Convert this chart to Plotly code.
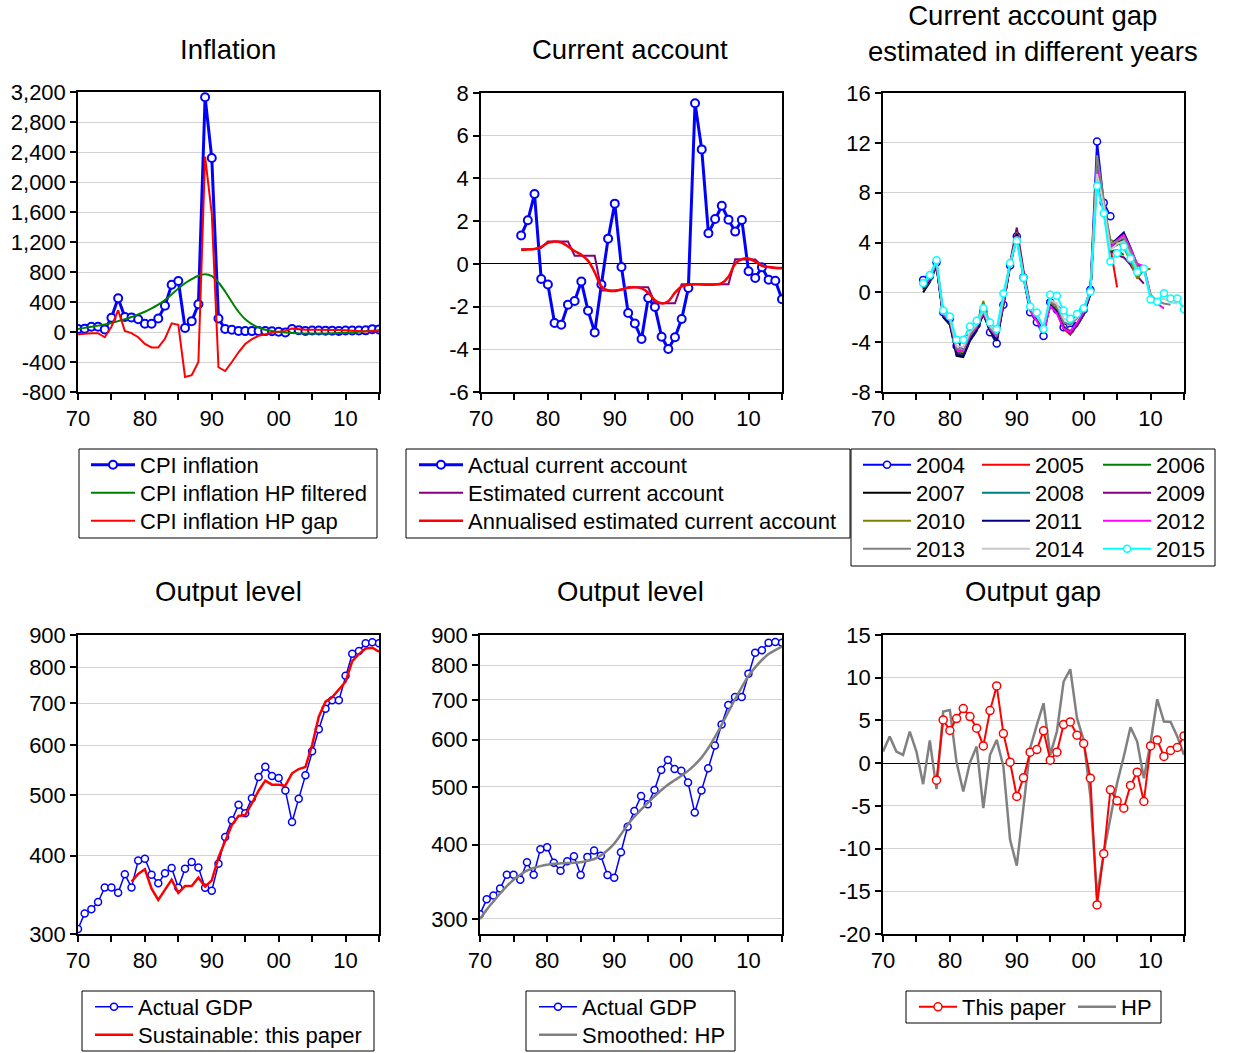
import math
import plotly.graph_objects as go

W, H = 1233, 1053
FONT = "Liberation Sans, Arial, sans-serif"

# ---------------- data ----------------
years_70_15 = list(range(1970, 2016))
years_76_15 = list(range(1976, 2016))
years_78_15 = list(range(1978, 2016))

cpi_inflation = [40, 45, 70, 70, 35, 190, 450, 200, 195, 170,
                 110, 110, 180, 350, 630, 680, 55, 145, 370, 3130,
                 2320, 180, 40, 30, 15, 12, 12, 12, 12, 10,
                 3, -5, 40, 25, 15, 20, 20, 18, 18, 15,
                 20, 20, 20, 22, 38, 35]
cpi_hp_filtered = [40, 55, 70, 85, 100, 120, 145, 170, 200, 235,
                   270, 315, 365, 425, 500, 580, 650, 705, 750, 770,
                   745, 660, 540, 400, 270, 170, 105, 60, 30, 12,
                   0, -8, -13, -17, -19, -20, -20, -19, -17, -14,
                   -10, -5, 2, 10, 18, 25]
cpi_hp_gap = [-30, -20, -15, -15, -70, 70, 290, 15, -15, -70,
              -160, -205, -205, -90, 115, 95, -600, -575, -400, 2340,
              1575, -470, -520, -400, -270, -160, -95, -50, -25, -10,
              5, 15, 45, 35, 30, 30, 32, 32, 30, 28,
              25, 20, 15, 8, 15, 10]

ca_actual = [1.33, 2.04, 3.27, -0.71, -0.97, -2.77, -2.85, -1.91, -1.74, -0.83,
             -2.19, -3.21, -0.97, 1.18, 2.82, -0.15, -2.30, -2.79, -3.52, -1.60,
             -2.02, -3.41, -3.99, -3.44, -2.58, -1.13, 7.52, 5.36, 1.43, 2.10,
             2.72, 2.07, 1.51, 2.05, -0.35, -0.66, -0.16, -0.74, -0.79, -1.66]
ca_estimated = [0.68, 0.68, 0.70, 0.75, 1.05, 1.05, 1.05, 1.05, 0.38, 0.38,
                0.38, 0.38, -1.25, -1.25, -1.25, -1.20, -1.10, -1.10, -1.10, -1.10,
                -1.85, -1.85, -1.85, -1.85, -0.95, -0.95, -0.95, -0.95, -0.95, -0.95,
                -0.95, -0.95, 0.22, 0.22, 0.22, 0.20, -0.10, -0.15, -0.20, -0.20]
ca_annualised = [0.65, 0.67, 0.70, 0.80, 0.98, 1.05, 1.00, 0.82, 0.60, 0.42,
                 0.15, -0.40, -1.05, -1.25, -1.27, -1.20, -1.12, -1.10, -1.15, -1.35,
                 -1.70, -1.85, -1.75, -1.35, -1.05, -0.98, -0.95, -0.97, -0.98, -0.97,
                 -0.90, -0.60, 0.00, 0.22, 0.25, 0.10, -0.08, -0.15, -0.18, -0.19]

# current account gap by vintage (values from 1976 onward)
gap_2004 = [1.0, 1.3, 2.4, -1.6, -2.1, -4.3, -4.2, -3.3, -2.6, -1.5,
            -3.2, -4.1, -1.0, 2.15, 4.5, 1.2, -1.6, -2.4, -3.5, -0.8,
            -1.4, -2.8, -3.0, -2.2, -1.4, 0.2, 12.1, 7.2, 6.1]
gap_2005 = [0.5, 1.1, 2.2, -1.8, -2.3, -4.7, -4.8, -3.6, -2.9, -1.8,
            -3.0, -3.8, -0.8, 2.3, 4.7, 1.5, -1.2, -2.0, -3.1, -1.0,
            -1.5, -2.9, -3.4, -2.6, -1.7, 0.0, 9.5, 6.8, 3.5, 0.4]
gap_2006 = [0.3, 1.0, 2.2, -1.9, -2.4, -4.8, -4.9, -3.7, -3.0, -1.6,
            -2.9, -3.7, -0.9, 2.2, 4.6, 1.4, -1.3, -2.1, -3.0, -1.0,
            -1.6, -2.9, -3.3, -2.7, -1.8, -0.2, 10.0, 6.5, 3.3, 3.4, 3.0]
gap_2007 = [0.0, 0.8, 2.1, -2.0, -2.6, -5.1, -5.2, -3.9, -3.1, -1.7,
            -3.1, -3.9, -1.0, 2.1, 4.6, 1.3, -1.4, -2.2, -3.0, -1.1,
            -1.5, -2.8, -3.2, -2.6, -1.7, -0.1, 10.3, 6.9, 3.6, 4.0, 4.3, 3.5]
gap_2008 = [0.2, 0.9, 2.2, -1.9, -2.5, -4.9, -5.0, -3.8, -3.0, -1.6,
            -3.0, -3.8, -1.0, 2.2, 4.7, 1.4, -1.3, -2.1, -3.0, -1.0,
            -1.5, -2.8, -3.2, -2.6, -1.7, -0.1, 10.2, 6.8, 3.5, 3.8, 4.2, 3.2, 1.8]
gap_2009 = [0.3, 1.0, 2.2, -1.8, -2.4, -4.8, -4.9, -3.7, -2.9, -1.5,
            -2.9, -3.7, -0.8, 2.4, 5.2, 1.8, -1.0, -1.9, -2.9, -0.9,
            -1.4, -2.9, -3.3, -2.7, -1.8, -0.1, 9.8, 6.6, 3.3, 3.0, 2.8, 2.2, 1.3, 0.7]
gap_2010 = [0.4, 1.1, 2.3, -1.7, -2.3, -4.7, -4.8, -3.4, -2.6, -0.7,
            -2.7, -3.5, -0.7, 2.3, 4.8, 1.5, -1.2, -2.0, -2.8, -0.9,
            -1.3, -2.7, -3.1, -2.5, -1.6, 0.0, 10.1, 7.0, 4.2, 4.0, 3.6, 2.5, 1.1, 1.8, 1.9]
gap_2011 = [0.3, 1.0, 2.2, -1.9, -2.5, -5.0, -5.1, -3.8, -3.0, -1.7,
            -3.0, -3.8, -0.9, 2.2, 4.7, 1.4, -1.3, -2.1, -3.0, -1.0,
            -1.5, -2.8, -3.2, -2.6, -1.7, -0.1, 10.5, 7.0, 3.8, 4.3, 4.8, 3.6, 2.2, 1.9, -0.3, -1.0]
gap_2012 = [0.4, 1.1, 2.3, -1.8, -2.3, -4.6, -4.7, -3.5, -2.8, -1.6,
            -2.9, -3.6, -0.8, 2.2, 4.4, 1.3, -1.5, -2.3, -3.3, -1.1,
            -1.7, -2.9, -3.2, -2.5, -1.6, 0.0, 10.0, 7.0, 3.6, 4.2, 4.6, 3.5, 2.3, 2.1, -0.2, -0.9, -1.3]
gap_2013 = [0.6, 1.2, 2.4, -1.7, -2.2, -4.5, -4.6, -3.4, -2.7, -1.5,
            -2.8, -3.5, -0.6, 2.2, 4.5, 1.4, -1.3, -2.0, -2.8, -0.7,
            -1.1, -2.4, -2.6, -2.1, -1.4, 0.2, 11.0, 7.4, 3.9, 4.1, 4.4, 3.3, 2.1, 2.0, -0.2, -0.7, -0.9, -1.0]
gap_2014 = [0.7, 1.3, 2.5, -1.6, -2.1, -4.3, -4.4, -3.2, -2.6, -1.4,
            -2.7, -3.3, -0.4, 2.3, 4.4, 1.3, -1.2, -1.9, -2.7, -0.6,
            -0.9, -2.1, -2.4, -2.0, -1.3, 0.1, 9.5, 7.0, 3.4, 3.9, 4.1, 3.0, 1.8, 1.9, -0.4, -0.8, -0.5, -0.8, -0.9]
gap_2015 = [0.73, 1.40, 2.57, -1.46, -1.94, -3.81, -3.81, -2.74, -2.29, -1.27,
            -2.42, -2.95, -0.10, 2.36, 4.15, 1.16, -1.14, -1.62, -2.95, -0.20,
            -0.28, -1.46, -2.13, -1.73, -1.27, 0.04, 8.53, 6.34, 2.47, 3.13,
            3.67, 2.71, 1.64, 1.90, -0.58, -0.76, -0.07, -0.50, -0.50, -1.35]

vintage_names = ["2004", "2005", "2006", "2007", "2008", "2009",
                 "2010", "2011", "2012", "2013", "2014", "2015"]
vintage_values = [gap_2004, gap_2005, gap_2006, gap_2007, gap_2008, gap_2009,
                  gap_2010, gap_2011, gap_2012, gap_2013, gap_2014, gap_2015]
vintage_colors = ["#0000FF", "#FF0000", "#008000", "#000000", "#008080", "#800080",
                  "#808000", "#000080", "#FF00FF", "#808080", "#C8C8C8", "#00FFFF"]

gdp_actual = [305.6, 323.6, 328.5, 337.5, 356, 356, 349, 373.5, 356, 393,
              395.7, 373, 361.4, 375, 382.3, 355.7, 381.4, 390.8, 383, 355.7,
              351.8, 388.4, 428.5, 455.5, 482.5, 467.4, 494, 534, 554.8, 536,
              532.1, 508.5, 452.7, 493.3, 537.4, 587, 636.4, 686.6, 707.9, 708,
              775, 840, 848.5, 873, 876, 873]
gdp_sustainable = [363.6, 374, 380.5, 354.4, 340, 352.7, 366.3, 349, 357.8, 357.8,
                   369, 357, 365.4, 397.6, 422.2, 447.7, 462.8, 464.5, 485, 507.9,
                   527, 519.3, 519.3, 517.4, 541.4, 550, 554, 600.8, 666.7, 704.5,
                   715.8, 737.9, 758, 817.8, 839, 856.6, 859, 846.5]
gdp_hp = [300, 311, 321, 331, 340.5, 349, 356, 361.5, 365.4, 368,
          370, 371.3, 372, 372.5, 372.8, 373.5, 375.5, 378.3, 383.5, 391.3,
          401.4, 416, 432, 445.5, 457.8, 470, 481.9, 493.5, 504.1, 513,
          521.9, 532, 544.5, 560, 580.7, 606, 635.6, 668, 701.9, 735,
          768, 794, 817, 836, 849, 860.4]

gap_this_paper = [-1.99, 5.06, 3.82, 5.22, 6.39, 5.45, 4.09, 2.02, 6.15, 9.04,
                  3.46, 0.11, -3.90, -1.72, 1.28, 1.59, 3.78, 0.35, 1.28, 4.52,
                  4.83, 3.27, 2.30, -1.76, -16.6, -10.6, -3.12, -4.41, -5.27, -2.61,
                  -1.06, -4.49, 2.02, 2.72, 0.78, 1.48, 1.83, 3.19]
gap_hp = [1.36, 3.11, 1.36, 0.97, 3.70, 1.36, -2.46, 2.65, -3.04, 6.04,
          6.23, 0.07, -3.32, 0.07, 1.94, -5.27, 0.97, 2.72, -0.39, -8.97,
          -12.0, -5.46, 1.75, 4.48, 7.01, 0.97, 3.70, 9.54, 10.99, 5.26,
          2.72, -3.90, -15.6, -10.5, -6.24, -2.34, 0.78, 4.20, 2.53, -1.76,
          2.41, 7.48, 4.87, 4.83, 3.11, 0.97]

# tick labels
x_tick_vals = [1970, 1975, 1980, 1985, 1990, 1995, 2000, 2005, 2010, 2015]
x_tick_text = ["70", "", "80", "", "90", "", "00", "", "10", ""]
infl_ticks = [-800, -400, 0, 400, 800, 1200, 1600, 2000, 2400, 2800, 3200]
infl_text = ["-800", "-400", "0", "400", "800", "1,200", "1,600", "2,000", "2,400", "2,800", "3,200"]
ca_ticks = [-6, -4, -2, 0, 2, 4, 6, 8]
ca_text = ["-6", "-4", "-2", "0", "2", "4", "6", "8"]
cag_ticks = [-8, -4, 0, 4, 8, 12, 16]
cag_text = ["-8", "-4", "0", "4", "8", "12", "16"]
lvl_ticks = [300, 400, 500, 600, 700, 800, 900]
lvl_text = ["300", "400", "500", "600", "700", "800", "900"]
og_ticks = [-20, -15, -10, -5, 0, 5, 10, 15]
og_text = ["-20", "-15", "-10", "-5", "0", "5", "10", "15"]

titles = ["Inflation", "Current account",
          "Current account gap<br>estimated in different years",
          "Output level", "Output level", "Output gap"]

# ---------------- helpers ----------------
def fx(px):
    return px / W

def fy(py):
    return 1 - py / H

BLUE = "#0000FF"
RED = "#FF0000"
GREEN = "#008000"
PURPLE = "#800080"
GRAY = "#808080"
GRID = "#D3D3D3"

fig = go.Figure()
legend_specs = {}   # legend id -> (text start x, row centre y, itemwidth)
counter = [0]

def new_legend(text_x, row_y, iw):
    counter[0] += 1
    lid = "legend" if counter[0] == 1 else f"legend{counter[0]}"
    legend_specs[lid] = (text_x, row_y, iw)
    return lid

def mk(color, size=7, lw=1.5):
    return dict(symbol="circle", size=size, color="white", line=dict(color=color, width=lw))

# Panel 1: inflation
fig.add_trace(go.Scatter(x=years_70_15, y=cpi_inflation, name="CPI inflation", mode="lines+markers",
                         line=dict(color=BLUE, width=3), marker=mk(BLUE, 8, 2),
                         xaxis="x", yaxis="y", legend=new_legend(140, 465, 44)))
fig.add_trace(go.Scatter(x=years_70_15, y=cpi_hp_filtered, name="CPI inflation HP filtered", mode="lines",
                         line=dict(color=GREEN, width=2, shape="spline"), xaxis="x", yaxis="y",
                         legend=new_legend(140, 493, 44)))
fig.add_trace(go.Scatter(x=years_70_15, y=cpi_hp_gap, name="CPI inflation HP gap", mode="lines",
                         line=dict(color=RED, width=2), xaxis="x", yaxis="y",
                         legend=new_legend(140, 521, 44)))

# Panel 2: current account
fig.add_trace(go.Scatter(x=years_76_15, y=ca_actual, name="Actual current account", mode="lines+markers",
                         line=dict(color=BLUE, width=3), marker=mk(BLUE, 8, 2),
                         xaxis="x2", yaxis="y2", legend=new_legend(468, 465, 44)))
fig.add_trace(go.Scatter(x=years_76_15, y=ca_estimated, name="Estimated current account", mode="lines",
                         line=dict(color=PURPLE, width=2), xaxis="x2", yaxis="y2",
                         legend=new_legend(468, 493, 44)))
fig.add_trace(go.Scatter(x=years_76_15, y=ca_annualised, name="Annualised estimated current account", mode="lines",
                         line=dict(color=RED, width=2.5, shape="spline"), xaxis="x2", yaxis="y2",
                         legend=new_legend(468, 521, 44)))

# Panel 3: current account gap vintages
col_text_x = [916, 1035, 1156]
row_y = [465, 493, 521, 549]
for i, (nm, vals, col) in enumerate(zip(vintage_names, vintage_values, vintage_colors)):
    yrs = years_76_15[:len(vals)]
    with_markers = nm in ("2004", "2015")
    fig.add_trace(go.Scatter(x=yrs, y=vals, name=nm,
                             mode="lines+markers" if with_markers else "lines",
                             line=dict(color=col, width=2),
                             marker=mk(col, 7, 1.5) if with_markers else None,
                             xaxis="x3", yaxis="y3",
                             legend=new_legend(col_text_x[i % 3], row_y[i // 3], 48)))

# Panel 4: output level vs this paper
fig.add_trace(go.Scatter(x=years_70_15, y=gdp_actual, name="Actual GDP", mode="lines+markers",
                         line=dict(color=BLUE, width=1.5), marker=mk(BLUE, 7, 1.5),
                         xaxis="x4", yaxis="y4", legend=new_legend(138, 1007, 38)))
fig.add_trace(go.Scatter(x=years_78_15, y=gdp_sustainable, name="Sustainable: this paper", mode="lines",
                         line=dict(color=RED, width=2.5), xaxis="x4", yaxis="y4",
                         legend=new_legend(138, 1035, 38)))

# Panel 5: output level vs HP
fig.add_trace(go.Scatter(x=years_70_15, y=gdp_actual, name="Actual GDP", mode="lines+markers",
                         line=dict(color=BLUE, width=1.5), marker=mk(BLUE, 7, 1.5),
                         xaxis="x5", yaxis="y5", legend=new_legend(582, 1007, 38)))
fig.add_trace(go.Scatter(x=years_70_15, y=gdp_hp, name="Smoothed: HP", mode="lines",
                         line=dict(color=GRAY, width=2.5, shape="spline"), xaxis="x5", yaxis="y5",
                         legend=new_legend(582, 1035, 38)))

# Panel 6: output gap
fig.add_trace(go.Scatter(x=years_70_15, y=gap_hp, name="HP", mode="lines",
                         line=dict(color=GRAY, width=2.5), xaxis="x6", yaxis="y6",
                         legend=new_legend(1121, 1007, 38)))
fig.add_trace(go.Scatter(x=years_78_15, y=gap_this_paper, name="This paper", mode="lines+markers",
                         line=dict(color=RED, width=2), marker=mk(RED, 8, 1.5),
                         xaxis="x6", yaxis="y6", legend=new_legend(962, 1007, 38)))

# ---------------- axes ----------------
panels = [
    (78, 379, 92, 392),
    (481, 782, 93, 392),
    (883, 1184, 93, 392),
    (78, 379, 635, 934),
    (480, 782, 635, 934),
    (883, 1184, 635, 934),
]
tickfont = dict(family=FONT, size=22, color="black")

def xaxis(i):
    x0, x1, y0, y1 = panels[i]
    return dict(domain=[fx(x0), fx(x1)], anchor="y" if i == 0 else f"y{i+1}",
                range=[1970, 2015], tickmode="array", tickvals=x_tick_vals, ticktext=x_tick_text,
                ticks="outside", ticklen=6, tickwidth=1.5, tickcolor="black",
                showline=True, linecolor="black", linewidth=1.5, mirror=True,
                showgrid=False, zeroline=False, tickfont=tickfont, fixedrange=True,
                automargin=False)

def yaxis(i, rng, tv, tt, zl=False, log=False):
    x0, x1, y0, y1 = panels[i]
    d = dict(domain=[fy(y1), fy(y0)], anchor="x" if i == 0 else f"x{i+1}",
             range=rng, tickmode="array", tickvals=tv, ticktext=tt,
             ticks="outside", ticklen=6, tickwidth=1.5, tickcolor="black",
             showline=True, linecolor="black", linewidth=1.5, mirror=True,
             showgrid=True, gridcolor=GRID, gridwidth=1,
             zeroline=zl, zerolinecolor="black", zerolinewidth=1.2,
             tickfont=tickfont, fixedrange=True, automargin=False)
    if log:
        d["type"] = "log"
    return d

layout = dict(
    width=W, height=H, margin=dict(l=0, r=0, t=0, b=0, pad=0, autoexpand=False),
    paper_bgcolor="white", plot_bgcolor="white",
    font=dict(family=FONT, color="black"),
    xaxis=xaxis(0), yaxis=yaxis(0, [-800, 3200], infl_ticks, infl_text),
    xaxis2=xaxis(1), yaxis2=yaxis(1, [-6, 8], ca_ticks, ca_text, zl=True),
    xaxis3=xaxis(2), yaxis3=yaxis(2, [-8, 16], cag_ticks, cag_text),
    xaxis4=xaxis(3), yaxis4=yaxis(3, [math.log10(300), math.log10(900)], lvl_ticks, lvl_text, log=True),
    xaxis5=xaxis(4), yaxis5=yaxis(4, [math.log10(283), math.log10(900)], lvl_ticks, lvl_text, log=True),
    xaxis6=xaxis(5), yaxis6=yaxis(5, [-20, 15], og_ticks, og_text, zl=True),
    showlegend=True,
)
layout["yaxis7"] = dict(overlaying="y3", side="right", anchor="x3", range=[-8, 16],
                        tickmode="array", tickvals=cag_ticks, ticktext=cag_text,
                        ticks="outside", ticklen=6, tickwidth=1.5, tickcolor="black",
                        showline=True, linecolor="black", linewidth=1.5,
                        showgrid=False, zeroline=False, tickfont=tickfont, fixedrange=True,
                        automargin=False)

legfont = dict(family=FONT, size=22, color="black")
for lid, (text_x, ry, iw) in legend_specs.items():
    lx = text_x - iw - 10
    layout[lid] = dict(x=fx(lx), y=fy(ry - 21), xanchor="left", yanchor="top", orientation="v",
                       bgcolor="rgba(0,0,0,0)", borderwidth=0, font=legfont, itemwidth=iw,
                       traceorder="normal", tracegroupgap=0, itemclick=False, itemdoubleclick=False)

# legend boxes
boxes = [(79, 449, 377, 538), (406, 449, 850, 538), (851, 449, 1215, 566),
         (82, 991, 374, 1051), (526, 991, 735, 1051), (906, 991, 1161, 1023)]
shapes = []
for (bx0, by0, bx1, by1) in boxes:
    shapes.append(dict(type="rect", xref="paper", yref="paper",
                       x0=fx(bx0), x1=fx(bx1), y0=fy(by1), y1=fy(by0),
                       line=dict(color="black", width=1), fillcolor="rgba(0,0,0,0)", layer="above"))
layout["shapes"] = shapes

# titles
title_pos = [(228, 49), (630, 49), (1033, 33), (228, 591), (630, 591), (1033, 591)]
annotations = []
for t, (tx, ty) in zip(titles, title_pos):
    annotations.append(dict(text=t, x=fx(tx), y=fy(ty), xref="paper", yref="paper",
                            xanchor="center", yanchor="middle", showarrow=False,
                            font=dict(family=FONT, size=27.5, color="black")))
layout["annotations"] = annotations

fig.update_layout(**layout)
fig.write_html("out.html", config={"displayModeBar": False},
               post_script="document.body.style.margin='0px';")
